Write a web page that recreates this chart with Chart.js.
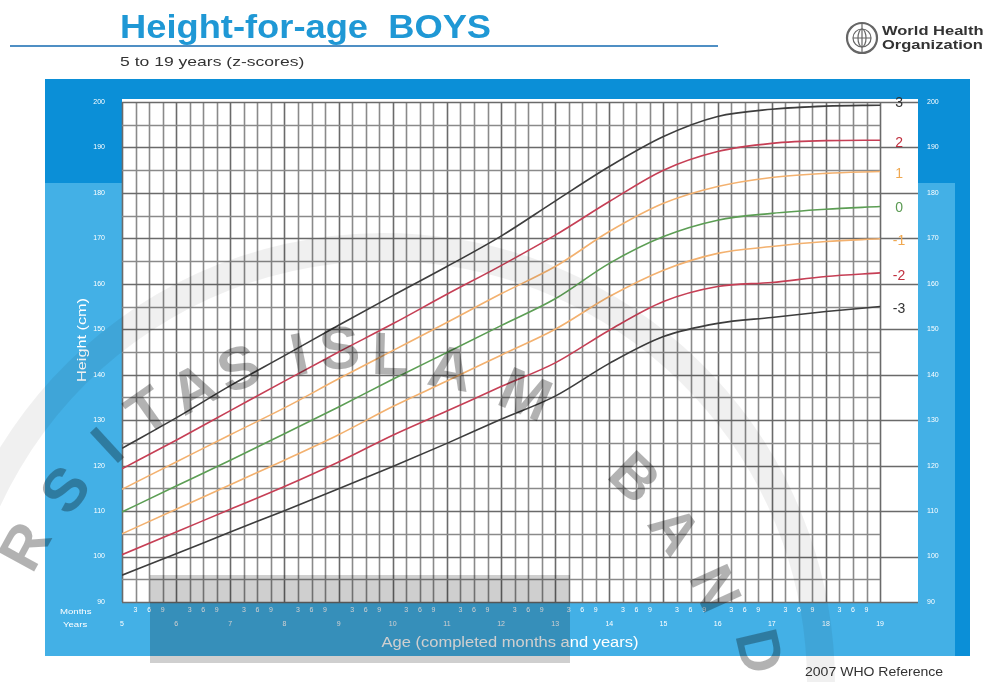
<!DOCTYPE html>
<html><head><meta charset="utf-8">
<script src="https://cdn.jsdelivr.net/npm/chart.js@4.4.0/dist/chart.umd.min.js"></script>
<style>html,body{margin:0;padding:0;background:#fff;}canvas{display:block;}</style>
</head><body>
<canvas id="c" width="989" height="682"></canvas>
<script>
// ---------- data ----------
const ages = [5,6,7,8,9,10,11,12,13,14,15,16,17,18,19];
const zPlus3  = [123.8,130.5,137.6,144.2,150.9,157.4,163.8,170.5,178.2,185.8,192.4,196.8,198.4,199.1,199.3];
const zPlus2  = [119.3,125.6,132.1,138.6,145.0,151.2,157.7,164.0,170.7,178.1,185.0,189.1,190.9,191.5,191.6];
const zPlus1  = [114.8,120.8,126.8,132.7,139.1,145.3,151.5,157.8,163.8,171.5,177.7,181.4,183.4,184.3,184.7];
const zZero   = [109.8,115.5,121.2,127.0,132.9,139.0,144.9,150.8,156.7,164.5,170.4,174.0,175.5,176.4,177.0];
const zMinus1 = [105.0,110.4,115.8,121.2,126.8,133.0,138.6,144.3,150.0,157.2,163.0,166.7,168.2,169.3,169.9];
const zMinus2 = [100.4,105.4,110.4,115.4,120.8,126.7,132.0,137.4,142.6,149.8,156.1,159.4,160.3,161.6,162.4];
const zMinus3 = [95.9,100.6,105.4,110.1,114.9,119.8,124.9,130.2,135.3,142.5,148.4,151.3,152.6,153.9,155.0];
const zLabels = ['3','2','1','0','-1','-2','-3'];
const yearLabels = ['5','6','7','8','9','10','11','12','13','14','15','16','17','18','19'];
const monthLabels = ['3','6','9'];
const heightTicks = [90,100,110,120,130,140,150,160,170,180,190,200];

const BLACK='#3d3d3d', RED='#c63f55', ORANGE='#f3b16f', GREEN='#5c9e54';
const series = [zPlus3,zPlus2,zPlus1,zZero,zMinus1,zMinus2,zMinus3];
const colors = [BLACK,RED,ORANGE,GREEN,ORANGE,RED,BLACK];
const labelColors = ['#333','#c0303f','#f0a850','#5a9a52','#f0a850','#c0303f','#333'];
const labelShift = [-2,3,3,2,2,3,3];

// x tick values: every quarter year
const xTickValues = [];
yearLabels.forEach((y,i)=>{ xTickValues.push(+y); if(i<yearLabels.length-1){ monthLabels.forEach((m,j)=>xTickValues.push(+y+(j+1)/4)); } });

function txt(ctx,s,x,y,o){
  ctx.save(); ctx.translate(x,y); if(o.rot) ctx.rotate(o.rot); ctx.scale(o.sx||1,1);
  ctx.font=o.font; ctx.fillStyle=o.color; ctx.textAlign=o.align||'left'; ctx.textBaseline=o.base||'alphabetic';
  ctx.fillText(s,0,0); ctx.restore();
}

const bgPlugin = {
  id:'bg',
  beforeDraw(chart){
    const ctx=chart.ctx, a=chart.chartArea;
    ctx.save();
    ctx.fillStyle='#fff'; ctx.fillRect(0,0,chart.width,chart.height);
    ctx.fillStyle='#43b0e6'; ctx.fillRect(45,79,925,577);
    ctx.fillStyle='#0b8fd7'; ctx.fillRect(45,79,925,104);
    ctx.fillRect(955,79,15,577);
    ctx.fillStyle='#fff'; ctx.fillRect(a.left,a.top-3,a.right-a.left,a.bottom-a.top+3);
    ctx.restore();
  },
  beforeDatasetsDraw(chart){
    const ctx=chart.ctx, a=chart.chartArea, xs=chart.scales.x, ys=chart.scales.y;
    const x0=xs.getPixelForValue(+yearLabels[0]), x1=xs.getPixelForValue(+yearLabels[yearLabels.length-1]);
    ctx.save();
    xTickValues.forEach(v=>{
      const px=Math.round(xs.getPixelForValue(v))+0.5;
      ctx.strokeStyle=Number.isInteger(v)?'#6a6a6a':'#8a8a8a'; ctx.lineWidth=1.6;
      ctx.beginPath(); ctx.moveTo(px,a.top); ctx.lineTo(px,a.bottom); ctx.stroke();
    });
    for(let h=heightTicks[0]; h<=heightTicks[heightTicks.length-1]; h+=5){
      const py=Math.round(ys.getPixelForValue(h))+0.5;
      const major=(h%10===0);
      ctx.strokeStyle=major?'#6a6a6a':'#8a8a8a'; ctx.lineWidth=1.6;
      ctx.beginPath(); ctx.moveTo(x0,py); ctx.lineTo(major?a.right:x1,py); ctx.stroke();
    }
    ctx.restore();
  },
  afterDatasetsDraw(chart){
    const ctx=chart.ctx;
    chart.data.datasets.forEach((ds,i)=>{
      const pts=chart.getDatasetMeta(i).data; const p=pts[pts.length-1];
      txt(ctx,zLabels[i],p.x+19,p.y+labelShift[i],{font:'14px "Liberation Sans"',color:labelColors[i],align:'center',base:'middle'});
    });
  },
  afterDraw(chart){
    const ctx=chart.ctx;
    txt(ctx,'Height-for-age  BOYS',120,38,{font:'bold 33px "Liberation Sans"',color:'#1f98d5',sx:1.1});
    ctx.save(); ctx.strokeStyle='#4f8fc4'; ctx.lineWidth=2; ctx.beginPath(); ctx.moveTo(10,46); ctx.lineTo(718,46); ctx.stroke(); ctx.restore();
    txt(ctx,'5 to 19 years (z-scores)',120,66,{font:'13.5px "Liberation Sans"',color:'#333',sx:1.3});
    ctx.save(); ctx.strokeStyle='#666'; ctx.lineWidth=2.2;
    ctx.beginPath(); ctx.arc(862,38,15,0,Math.PI*2); ctx.stroke();
    ctx.lineWidth=1.2; ctx.beginPath(); ctx.arc(862,38,9,0,Math.PI*2); ctx.stroke();
    ctx.beginPath(); ctx.ellipse(862,38,4,9,0,0,Math.PI*2); ctx.stroke();
    ctx.beginPath(); ctx.moveTo(853,38); ctx.lineTo(871,38); ctx.moveTo(862,24); ctx.lineTo(862,54); ctx.stroke();
    ctx.restore();
    txt(ctx,'World Health',882,35,{font:'bold 13px "Liberation Sans"',color:'#333',sx:1.27});
    txt(ctx,'Organization',882,49,{font:'bold 13px "Liberation Sans"',color:'#333',sx:1.27});
    txt(ctx,'Height (cm)',82,340,{font:'13px "Liberation Sans"',color:'#fff',align:'center',base:'middle',rot:-Math.PI/2,sx:1.25});
    txt(ctx,'Age (completed months and years)',510,643,{font:'14px "Liberation Sans"',color:'#fff',align:'center',base:'middle',sx:1.18});
    txt(ctx,'Months',60,612,{font:'8px "Liberation Sans"',color:'#fff',base:'middle',sx:1.2});
    txt(ctx,'Years',63,625,{font:'8px "Liberation Sans"',color:'#fff',base:'middle',sx:1.2});
    txt(ctx,'2007 WHO Reference',805,676,{font:'13px "Liberation Sans"',color:'#333',sx:1.08});
    // scan artefacts: grey rectangle + watermark ring and letters
    ctx.save(); ctx.fillStyle='rgba(0,0,0,0.19)'; ctx.fillRect(150,575,420,88);
    ctx.strokeStyle='rgba(0,0,0,0.06)'; ctx.lineWidth=28;
    ctx.beginPath(); ctx.arc(384,684,437,Math.PI*1.05,Math.PI*2); ctx.stroke();
    ctx.restore();
    const wm=[['R',28,548],['S',68,492],['I',110,448],['T',150,414],['A',195,392],['S',240,372],
              ['I',300,358],['S',340,352],['L',390,358],['A',450,372],['M',524,398],
              ['B',632,480],['A',672,532],['N',712,590],['D',756,652]];
    const cx=380, cy=740;
    wm.forEach(([ch,x,y])=>{
      const rot=Math.atan2(y-cy,x-cx)+Math.PI/2;
      txt(ctx,ch,x,y,{font:'bold 60px "Liberation Sans"',color:'rgba(0,0,0,0.3)',align:'center',base:'middle',rot:rot});
    });
  }
};

const datasets = series.map((vals,i)=>({
  label:'z'+zLabels[i],
  data: ages.map((a,k)=>({x:a,y:vals[k]})),
  borderColor:colors[i], borderWidth:1.6, pointRadius:0, fill:false,
  cubicInterpolationMode:'monotone'
}));

new Chart(document.getElementById('c'),{
  type:'line',
  data:{datasets},
  plugins:[bgPlugin],
  options:{
    responsive:false, animation:false, devicePixelRatio:1,
    layout:{padding:{top:102,left:0,right:0,bottom:0}},
    plugins:{legend:{display:false},tooltip:{enabled:false}},
    scales:{
      x:{type:'linear',min:5,max:19.7,
        grid:{display:false,drawTicks:false},border:{display:false},
        afterBuildTicks(s){ s.ticks=xTickValues.map(v=>({value:v})); },
        afterFit(s){ s.height=80; },
        ticks:{autoSkip:false,maxRotation:0,minRotation:0,padding:1,color:'#fff',
          font:{size:7,family:'"Liberation Sans"',lineHeight:2},
          callback(v){ if(Number.isInteger(v)) return ['',yearLabels[v-5]]; const q=Math.round((v-Math.floor(v))*4); return [monthLabels[q-1],'']; }}
      },
      y:{position:'left',min:90,max:200,
        grid:{display:false,drawTicks:false},border:{display:false},
        afterBuildTicks(s){ s.ticks=heightTicks.map(v=>({value:v})); },
        afterFit(s){ s.width=122; },
        ticks:{padding:17,color:'#fff',font:{size:7,family:'"Liberation Sans"'}}
      },
      y2:{position:'right',min:90,max:200,
        grid:{display:false,drawTicks:false},border:{display:false},
        afterBuildTicks(s){ s.ticks=heightTicks.map(v=>({value:v})); },
        afterFit(s){ s.width=71; },
        ticks:{padding:9,color:'#fff',font:{size:7,family:'"Liberation Sans"'}}
      }
    }
  }
});
</script>
</body></html>
